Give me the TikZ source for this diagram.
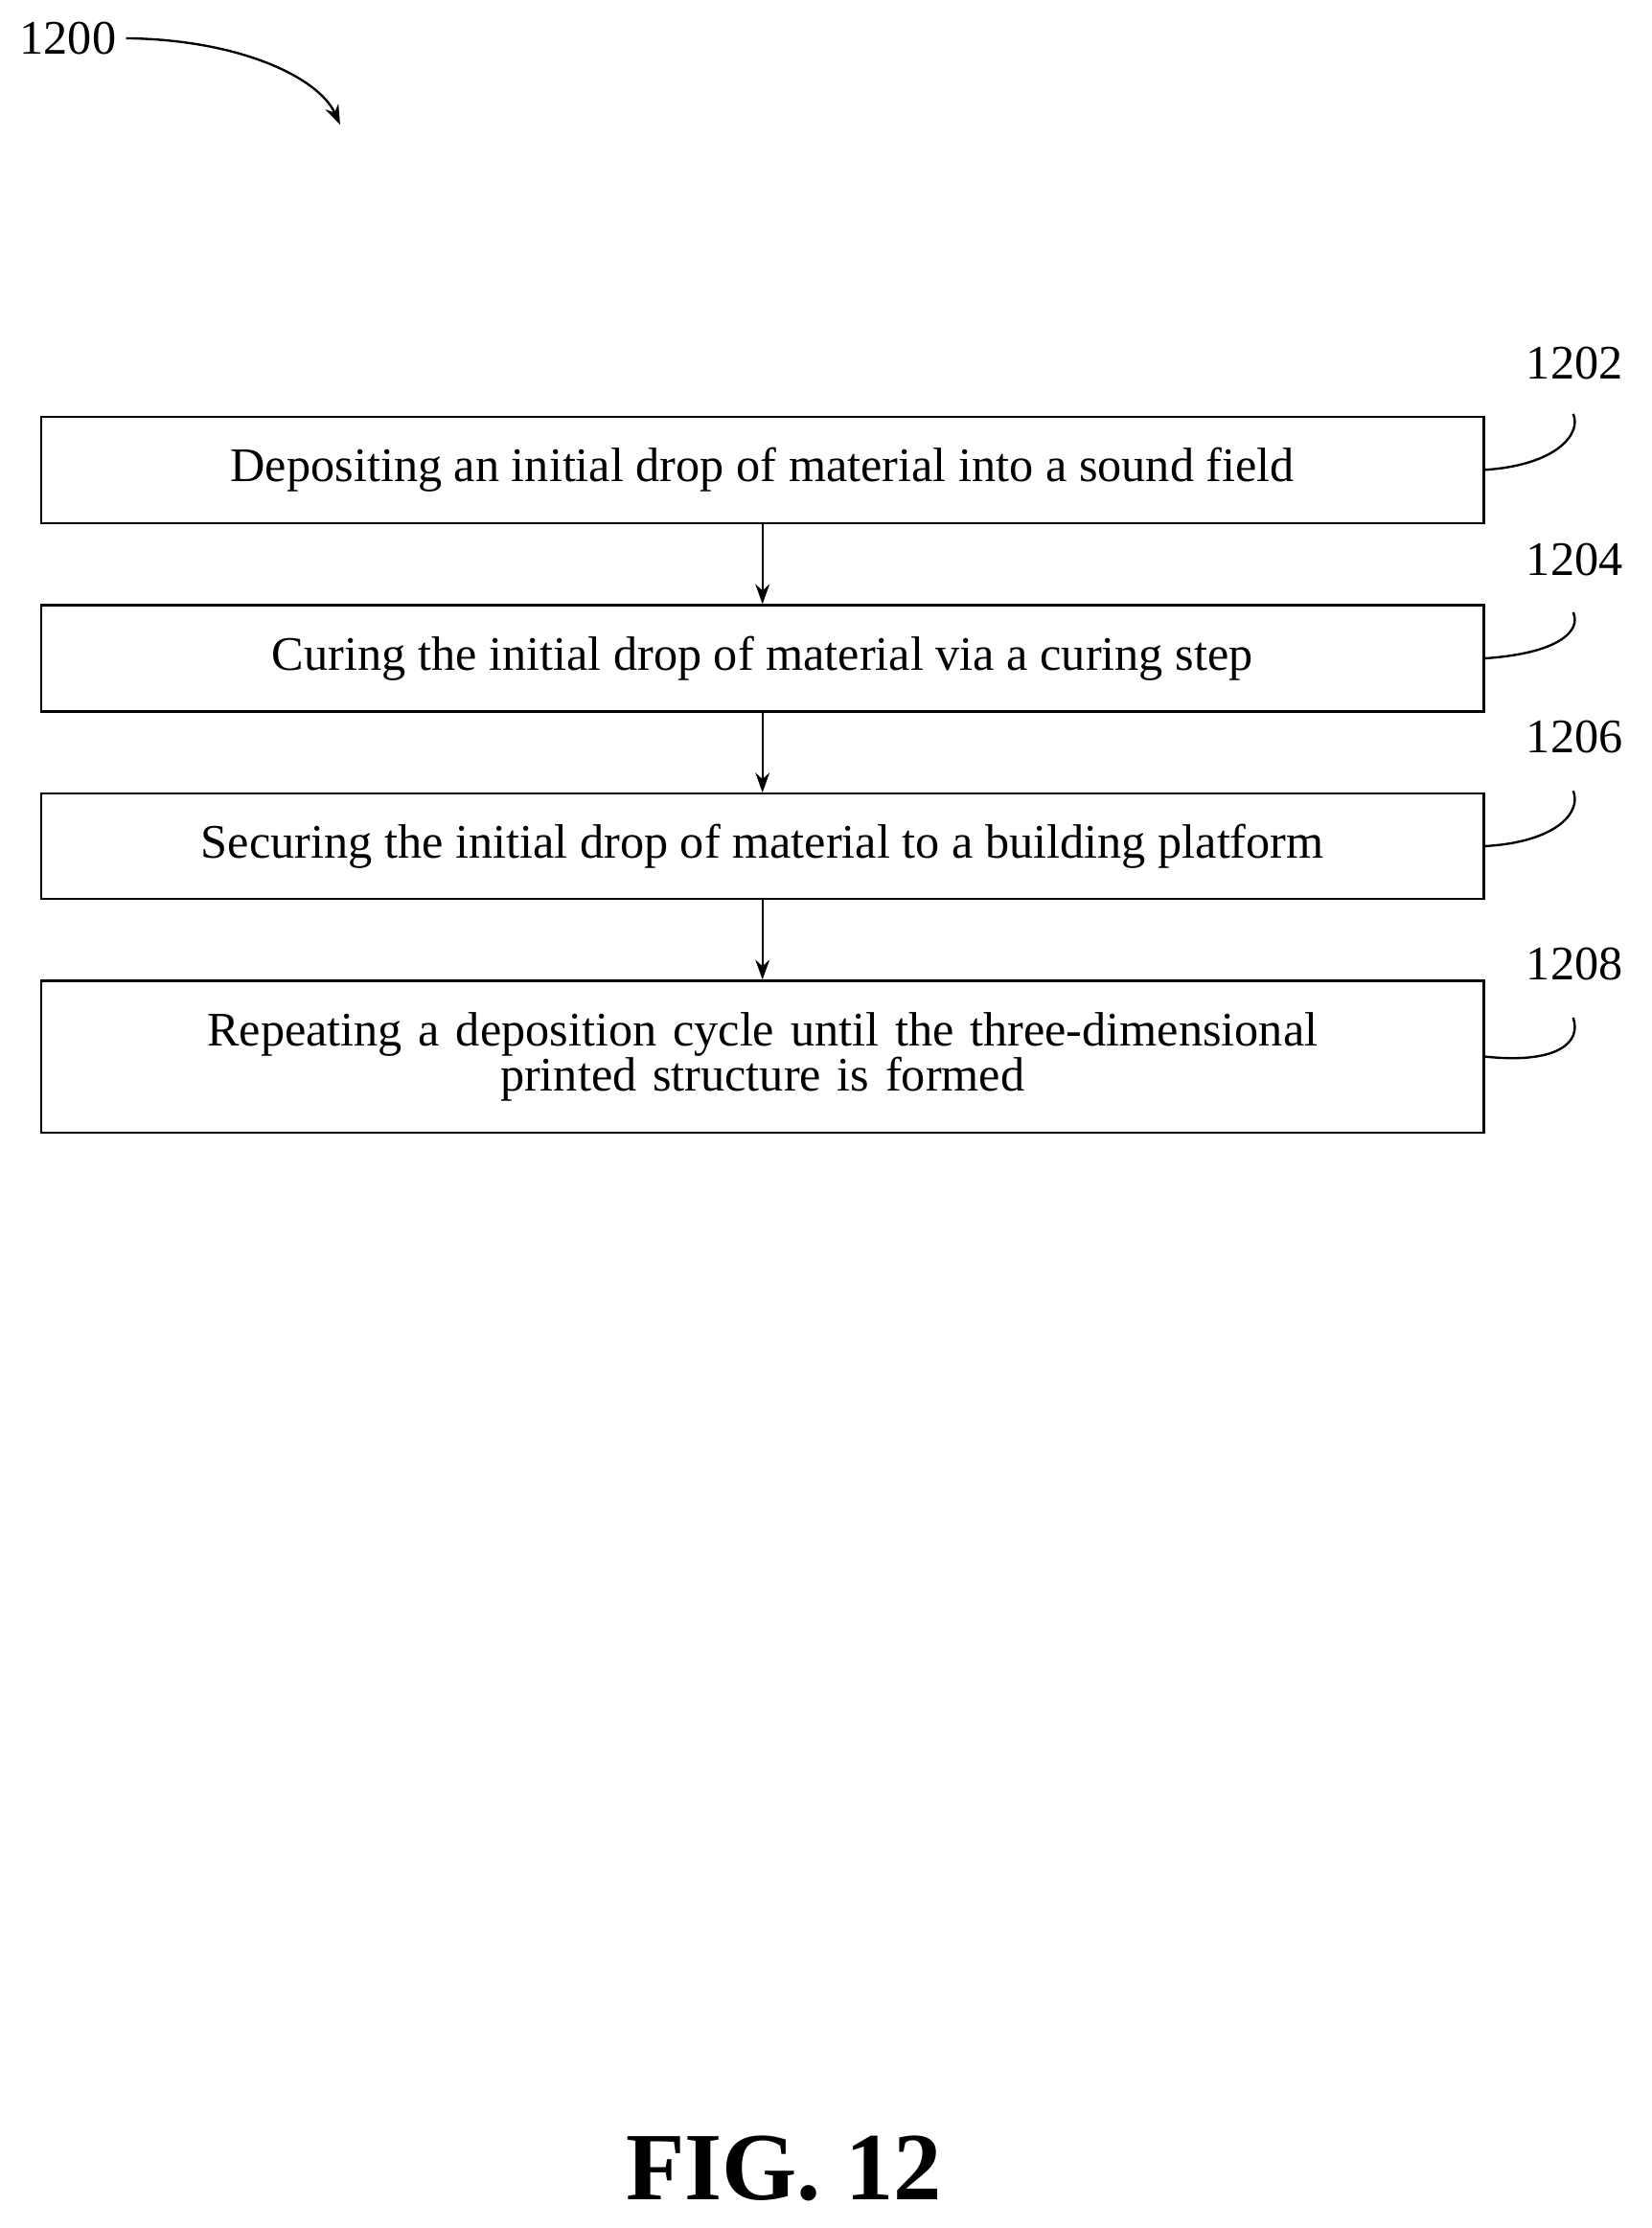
\documentclass[tikz,border=0pt]{standalone}
\usepackage{fontspec}
\setmainfont{Liberation Serif}
\usetikzlibrary{arrows.meta}
\tikzset{
  stepbox/.style={draw, thick, minimum width=509pt, align=center, font=\fontsize{17}{18}\selectfont},
  ref/.style={font=\fontsize{17}{18}\selectfont},
  flow/.style={thick, -{Stealth[length=7pt,width=5pt]}}
}
\begin{document}
\begin{tikzpicture}[x=0.5pt,y=-0.5pt]
	\useasboundingbox (0,0) rectangle (1165,1572);
	\node [stepbox, minimum height=37.5pt] (s1) at (538,331.5) {Depositing an initial drop of material into a sound field};
	\node [stepbox, minimum height=37.5pt] (s2) at (538,464.5) {Curing the initial drop of material via a curing step};
	\node [stepbox, minimum height=37pt] (s3) at (538,597) {Securing the initial drop of material to a building platform};
	\node [stepbox, minimum height=53.5pt, text width=480pt] (s4) at (538,745.5) {Repeating a deposition cycle until the three-dimensional\\[-2pt] printed structure is formed};
	\draw [flow] (s1) -- (s2);
	\draw [flow] (s2) -- (s3);
	\draw [flow] (s3) -- (s4);
	\node [ref] (n1202) at (1111,256) {1202};
	\node [ref] (n1204) at (1111,395) {1204};
	\node [ref] (n1206) at (1111,520) {1206};
	\node [ref] (n1208) at (1111,680) {1208};
	\draw [thick] (s1.east) .. controls (1100,328) and (1116,305) .. (1110,292);
	\draw [thick] (s2.east) .. controls (1100,461) and (1116,445) .. (1110,432);
	\draw [thick] (s3.east) .. controls (1100,594) and (1116,572) .. (1110,558);
	\draw [thick] (s4.east) .. controls (1100,751) and (1116,735) .. (1110,718);
	\node [ref] (n1200) at (48,27) {1200};
	\draw [thick, -{Stealth[length=7pt,width=5pt]}] (n1200.east) .. controls (170,28) and (225,55) .. (240,88);
	\node [font=\bfseries\fontsize{34}{36}\selectfont] (fig) at (553,1530) {FIG. 12};
\end{tikzpicture}
\end{document}
